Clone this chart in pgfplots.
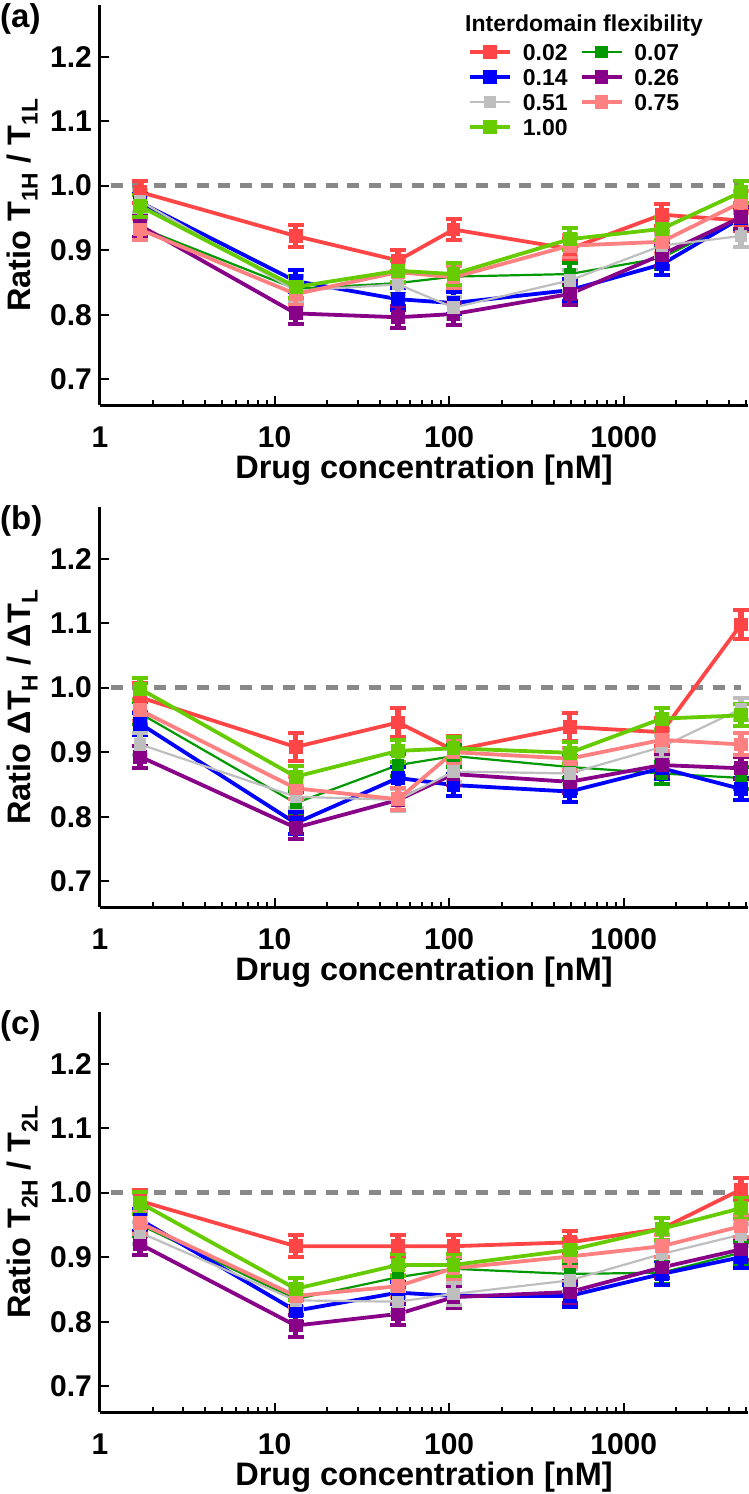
\documentclass[border=0pt]{standalone}
\usepackage{fontspec}
\setmainfont{Liberation Sans}
\usepackage{pgfplots}
\usepackage{pgfplotstable}
\pgfplotsset{compat=1.18}

\definecolor{cred}{HTML}{FF4545}
\definecolor{cdkgreen}{HTML}{009900}
\definecolor{cblue}{HTML}{0000FF}
\definecolor{cpurple}{HTML}{880088}
\definecolor{cgray}{HTML}{BEBEBE}
\definecolor{cpink}{HTML}{FF8080}
\definecolor{clime}{HTML}{66CC00}
\definecolor{cdash}{HTML}{888888}

% columns: x, r=0.02, g=0.07, b=0.14, p=0.26, s=0.51, k=0.75, l=1.00
\pgfplotstableread{
x     r      g      b      p      s      k      l
1.7   0.990  0.935  0.974  0.938  0.976  0.932  0.968
13.2  0.922  0.840  0.852  0.802  0.837  0.832  0.843
51    0.884  0.849  0.824  0.796  0.847  0.866  0.868
106   0.932  0.859  0.818  0.801  0.811  0.858  0.863
490   0.902  0.863  0.838  0.832  0.853  0.907  0.917
1650  0.955  0.888  0.878  0.893  0.907  0.913  0.933
4700  0.946  0.950  0.950  0.951  0.922  0.974  0.990
}\tabA
\pgfplotstableread{
x     r      g      b      p      s      k      l
1.7   0.985  0.960  0.944  0.893  0.912  0.965  0.998
13.2  0.908  0.821  0.790  0.783  0.831  0.844  0.862
51    0.946  0.880  0.860  0.826  0.826  0.827  0.902
106   0.903  0.894  0.849  0.866  0.870  0.900  0.906
490   0.939  0.877  0.839  0.854  0.867  0.890  0.899
1650  0.931  0.867  0.875  0.880  0.908  0.919  0.952
4700  1.098  0.860  0.843  0.875  0.967  0.912  0.957
}\tabB
\pgfplotstableread{
x     r      g      b      p      s      k      l
1.7   0.987  0.950  0.958  0.920  0.938  0.953  0.984
13.2  0.917  0.835  0.817  0.794  0.833  0.840  0.851
51    0.917  0.869  0.845  0.812  0.831  0.855  0.888
106   0.917  0.882  0.840  0.838  0.843  0.883  0.888
490   0.923  0.874  0.840  0.846  0.864  0.901  0.911
1650  0.944  0.876  0.874  0.884  0.905  0.917  0.944
4700  1.005  0.907  0.900  0.912  0.935  0.948  0.976
}\tabC

\pgfplotsset{
 legend image code/.code={\draw[mark repeat=2,mark phase=2,#1] plot coordinates {(0pt,0pt) (20pt,0pt) (40pt,0pt)};},
 ser/.style={color=#1, mark=square*, mark size=5pt, mark options={solid}, line width=3.8pt,
  error bars/y dir=both, error bars/y fixed=0.017,
  error bars/error bar style={line width=5.5pt, #1},
  error bars/error mark options={rotate=90, mark size=8pt, line width=4pt, #1}},
 thinser/.style={ser=#1, line width=2.2pt},
 refline/.style={color=cdash, line width=5.5pt, dash pattern=on 12pt off 9.5pt, forget plot},
}

\newcommand{\panellabel}[1]{\node[anchor=north west, inner sep=0pt, xshift=-100pt, yshift=2pt, font=\fontsize{33}{33}\selectfont\bfseries] at (rel axis cs:0,1) {#1};}

\begin{document}
\begin{tikzpicture}
\useasboundingbox (-100pt,-1089pt) rectangle (648pt,405pt);
\pgfplotsset{
  scale only axis, width=648pt, height=400pt,
  xmin=1, xmax=5150, ymin=0.66, ymax=1.28,
  axis x line=bottom, axis y line=left,
  axis line style={line width=3pt, -},
  tick align=inside, major tick length=9pt, minor tick length=5pt,
  every tick/.style={black, line width=2pt},
  xtick={1,10,100,1000}, xticklabels={1,10,100,1000},
  minor xtick={2,3,4,5,6,7,8,9,20,30,40,50,60,70,80,90,200,300,400,500,600,700,800,900,2000,3000,4000,5000},
  ytick={0.7,0.8,0.9,1.0,1.1,1.2}, yticklabels={0.7,0.8,0.9,1.0,1.1,1.2},
  ticklabel style={font=\fontsize{30}{30}\selectfont\bfseries},
  xticklabel style={anchor=base, yshift=-42pt, inner sep=0pt},
  yticklabel style={anchor=east, inner sep=0pt, xshift=-8pt},
  xlabel={Drug concentration [nM]},
  every axis x label/.style={at={(axis description cs:0.5,0)}, anchor=base, yshift=-73pt, inner sep=0pt, font=\fontsize{32.5}{32.5}\selectfont\bfseries},
  every axis y label/.style={at={(axis description cs:-0.12,0.5)}, rotate=90, anchor=center, inner sep=0pt, font=\fontsize{32.5}{32.5}\selectfont\bfseries},
  clip=false,
}

% ---------- panel (a)
\begin{semilogxaxis}[at={(0pt,0pt)}, anchor=south west,
  ylabel={Ratio T\textsubscript{1H} / T\textsubscript{1L}},
  legend columns=2, legend cell align=left,
  legend style={draw=none, fill=none, at={(rel axis cs:0.568,0.9025)}, anchor=north west,
    inner sep=0pt, outer sep=0pt, font=\fontsize{23}{23}\selectfont\bfseries, row sep=9pt,
    nodes={inner sep=0pt, text height=16pt, text depth=0pt},
    /tikz/every odd column/.append style={column sep=11pt},
    /tikz/every even column/.append style={column sep=12pt}},
]
\addplot[refline] coordinates {(1.15,1) (4700,1)};
\addplot[ser=cred] table[x=x,y=r] {\tabA}; \addlegendentry{0.02}
\addplot[thinser=cdkgreen] table[x=x,y=g] {\tabA}; \addlegendentry{0.07}
\addplot[ser=cblue] table[x=x,y=b] {\tabA}; \addlegendentry{0.14}
\addplot[ser=cpurple] table[x=x,y=p] {\tabA}; \addlegendentry{0.26}
\addplot[thinser=cgray] table[x=x,y=s] {\tabA}; \addlegendentry{0.51}
\addplot[ser=cpink] table[x=x,y=k] {\tabA}; \addlegendentry{0.75}
\addplot[ser=clime] table[x=x,y=l] {\tabA}; \addlegendentry{1.00}
\node[anchor=base west, inner sep=0pt, font=\fontsize{23}{23}\selectfont\bfseries] at (rel axis cs:0.5633,0.935) {Interdomain flexibility};
\panellabel{(a)}
\end{semilogxaxis}

% ---------- panel (b)
\begin{semilogxaxis}[at={(0pt,-502pt)}, anchor=south west,
  ylabel={Ratio ΔT\textsubscript{H} / ΔT\textsubscript{L}}]
\addplot[refline] coordinates {(1.15,1) (4700,1)};
\addplot[ser=cred, error bars/y fixed=0.022] table[x=x,y=r] {\tabB};
\addplot[thinser=cdkgreen] table[x=x,y=g] {\tabB};
\addplot[ser=cblue] table[x=x,y=b] {\tabB};
\addplot[ser=cpurple] table[x=x,y=p] {\tabB};
\addplot[thinser=cgray] table[x=x,y=s] {\tabB};
\addplot[ser=cpink] table[x=x,y=k] {\tabB};
\addplot[ser=clime] table[x=x,y=l] {\tabB};
\panellabel{(b)}
\end{semilogxaxis}

% ---------- panel (c)
\begin{semilogxaxis}[at={(0pt,-1007pt)}, anchor=south west,
  ylabel={Ratio T\textsubscript{2H} / T\textsubscript{2L}}]
\addplot[refline] coordinates {(1.15,1) (4700,1)};
\addplot[ser=cred] table[x=x,y=r] {\tabC};
\addplot[thinser=cdkgreen] table[x=x,y=g] {\tabC};
\addplot[ser=cblue] table[x=x,y=b] {\tabC};
\addplot[ser=cpurple] table[x=x,y=p] {\tabC};
\addplot[thinser=cgray] table[x=x,y=s] {\tabC};
\addplot[ser=cpink] table[x=x,y=k] {\tabC};
\addplot[ser=clime] table[x=x,y=l] {\tabC};
\panellabel{(c)}
\end{semilogxaxis}
\end{tikzpicture}
\end{document}
